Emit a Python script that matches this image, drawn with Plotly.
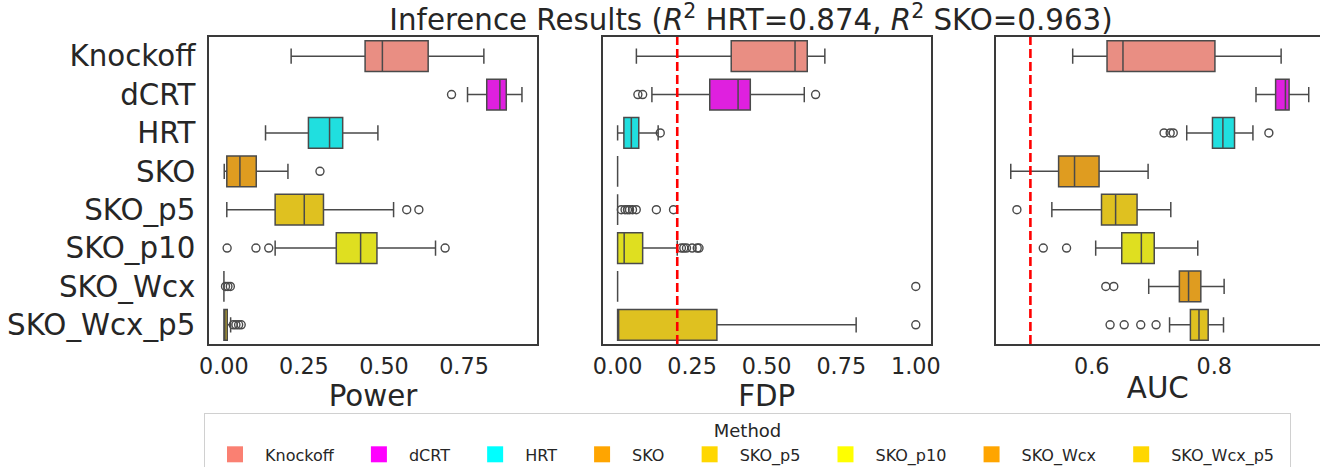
import colorsys
import plotly.graph_objects as go
from plotly.subplots import make_subplots

methods = ["Knockoff", "dCRT", "HRT", "SKO", "SKO_p5", "SKO_p10", "SKO_Wcx", "SKO_Wcx_p5"]
palette = ["#FA8072", "#FF00FF", "#00FFFF", "#FFA500", "#FFD700", "#FFFF00", "#FFA500", "#FFD700"]

# Power
power_lo = [0.210, 0.761, 0.130, 0.001, 0.009, 0.160, 0.0, 0.0]
power_q1 = [0.441, 0.821, 0.264, 0.009, 0.160, 0.351, 0.0, 0.0]
power_med = [0.495, 0.862, 0.330, 0.050, 0.251, 0.427, 0.0, 0.0]
power_q3 = [0.638, 0.882, 0.371, 0.101, 0.311, 0.478, 0.0, 0.0104]
power_hi = [0.812, 0.931, 0.481, 0.200, 0.530, 0.661, 0.0, 0.021]
power_out = [[], [0.711], [], [0.300], [0.571, 0.609], [0.010, 0.100, 0.140, 0.691],
             [0.005, 0.0125, 0.020], [0.029, 0.0375, 0.046, 0.054]]

# FDP
fdp_lo = [0.063, 0.115, 0.0, 0.0, 0.0, 0.0, 0.0, 0.0]
fdp_q1 = [0.381, 0.309, 0.021, 0.0, 0.0, 0.0, 0.0, 0.0]
fdp_med = [0.595, 0.404, 0.046, 0.0, 0.0, 0.022, 0.0, 0.0]
fdp_q3 = [0.636, 0.445, 0.071, 0.0, 0.0, 0.084, 0.0, 0.333]
fdp_hi = [0.695, 0.626, 0.136, 0.0, 0.0, 0.200, 0.0, 0.800]
fdp_out = [[], [0.068, 0.084, 0.664], [0.143], [],
           [0.0125, 0.025, 0.033, 0.040, 0.050, 0.0625, 0.130, 0.1875],
           [0.214, 0.222, 0.231, 0.250, 0.267, 0.273], [1.0], [1.0]]

# AUC
auc_lo = [0.569, 0.868, 0.755, 0.468, 0.535, 0.6065, 0.693, 0.727]
auc_q1 = [0.625, 0.900, 0.797, 0.546, 0.616, 0.649, 0.743, 0.761]
auc_med = [0.651, 0.916, 0.814, 0.572, 0.639, 0.681, 0.758, 0.775]
auc_q3 = [0.801, 0.922, 0.833, 0.612, 0.674, 0.702, 0.778, 0.790]
auc_hi = [0.909, 0.954, 0.863, 0.692, 0.729, 0.773, 0.816, 0.815]
auc_out = [[], [], [0.718, 0.728, 0.733, 0.889], [], [0.478], [0.521, 0.559],
           [0.623, 0.636], [0.630, 0.653, 0.680, 0.705]]

fdp_threshold = 0.2
auc_threshold = 0.5

title_text = "Inference Results (<i>R</i><sup>2</sup> HRT=0.874, <i>R</i><sup>2</sup> SKO=0.963)"
x_titles = ["Power", "FDP", "AUC"]

W, H = 1320, 467
LINE = "#4a4a4a"
TXT = "#262626"
FONT = "DejaVu Sans"


def desat(hexc, prop=0.75):
    r, g, b = (int(hexc[i:i + 2], 16) / 255 for i in (1, 3, 5))
    h, l, s = colorsys.rgb_to_hls(r, g, b)
    r, g, b = colorsys.hls_to_rgb(h, l, s * prop)
    return "#%02x%02x%02x" % (round(r * 255), round(g * 255), round(b * 255))


fills = [desat(c) for c in palette]

fig = make_subplots(rows=1, cols=3)

panels = [
    (power_lo, power_q1, power_med, power_q3, power_hi, power_out),
    (fdp_lo, fdp_q1, fdp_med, fdp_q3, fdp_hi, fdp_out),
    (auc_lo, auc_q1, auc_med, auc_q3, auc_hi, auc_out),
]

for p, (lo, q1, med, q3, hi, out) in enumerate(panels):
    col = p + 1
    for i, m in enumerate(methods):
        fig.add_trace(go.Box(
            y=[m], q1=[q1[i]], median=[med[i]], q3=[q3[i]],
            lowerfence=[lo[i]], upperfence=[hi[i]],
            orientation="h", width=0.8, whiskerwidth=0.5,
            fillcolor=fills[i], line=dict(color=LINE, width=1.5),
            boxpoints=False, showlegend=False, hoverinfo="skip",
        ), row=1, col=col)
    ox, oy = [], []
    for i, m in enumerate(methods):
        for v in out[i]:
            ox.append(v)
            oy.append(m)
    fig.add_trace(go.Scatter(
        x=ox, y=oy, mode="markers",
        marker=dict(symbol="circle-open", size=8, color=LINE, line=dict(width=1.4, color=LINE)),
        showlegend=False, hoverinfo="skip",
    ), row=1, col=col)

# legend entries
for i, m in enumerate(methods):
    fig.add_trace(go.Scatter(
        x=[None], y=[None], mode="markers",
        marker=dict(symbol="square", size=17, color=palette[i]),
        name=m + "\u00a0\u00a0", showlegend=True,
    ), row=1, col=1)

fig.add_vline(x=fdp_threshold, line=dict(color="#ff0000", width=2.6, dash="9px,4px"), row=1, col=2)
fig.add_vline(x=auc_threshold, line=dict(color="#ff0000", width=2.6, dash="9px,4px"), row=1, col=3)

x_domains = [[209 / W, 537 / W], [602.7 / W, 930.7 / W], [995.7 / W, 1.0]]
x_ranges = [[-0.0466, 0.978], [-0.05, 1.05], [0.4434, 0.9724]]
x_ticks = [[0, 0.25, 0.5, 0.75], [0, 0.25, 0.5, 0.75, 1.0], [0.6, 0.8]]
x_fmt = [".2f", ".2f", ".1f"]
y_dom = [1 - 344 / H, 1 - 37 / H]

for p in range(3):
    xa = "xaxis" if p == 0 else f"xaxis{p + 1}"
    ya = "yaxis" if p == 0 else f"yaxis{p + 1}"
    fig.layout[xa].update(
        domain=x_domains[p], range=x_ranges[p], tickvals=x_ticks[p], tickformat=x_fmt[p],
        showgrid=False, zeroline=False, ticks="", showline=True, mirror=True,
        linecolor="#3a3a3a", linewidth=1.6,
        tickfont=dict(size=22.3, color=TXT, family=FONT), ticklabelstandoff=1,
        title=dict(text=x_titles[p], font=dict(size=29.3, color=TXT, family=FONT), standoff=0),
    )
    fig.layout[ya].update(
        domain=y_dom, type="category", categoryorder="array", categoryarray=methods,
        range=[7.5, -0.5], showgrid=False, zeroline=False, ticks="",
        showline=True, mirror=(p < 2), linecolor="#3a3a3a", linewidth=1.6,
        showticklabels=(p == 0), tickfont=dict(size=29.3, color=TXT, family=FONT),
        ticklabelstandoff=6,
    )

fig.update_layout(
    width=W, height=H,
    margin=dict(l=0, r=0, t=0, b=0, autoexpand=False),
    paper_bgcolor="white", plot_bgcolor="white",
    font=dict(family=FONT, color=TXT),
    boxmode="overlay",
    title=dict(text=title_text, x=751 / W, xanchor="center", y=1 - 20 / H, yanchor="middle",
               font=dict(size=29.3, color=TXT, family=FONT)),
    legend=dict(
        orientation="h", x=204 / W, xanchor="left", y=1 - 413 / H, yanchor="top",
        title=dict(text="Method", side="top center", font=dict(size=18, color=TXT, family=FONT)),
        font=dict(size=16, color=TXT, family=FONT),
        bordercolor="#d0d0d0", borderwidth=1, bgcolor="white",
        itemsizing="trace", itemwidth=50,
    ),
)

fig.write_html("out.html", config={"displayModeBar": False},
               post_script="document.body.style.margin='0px';")
